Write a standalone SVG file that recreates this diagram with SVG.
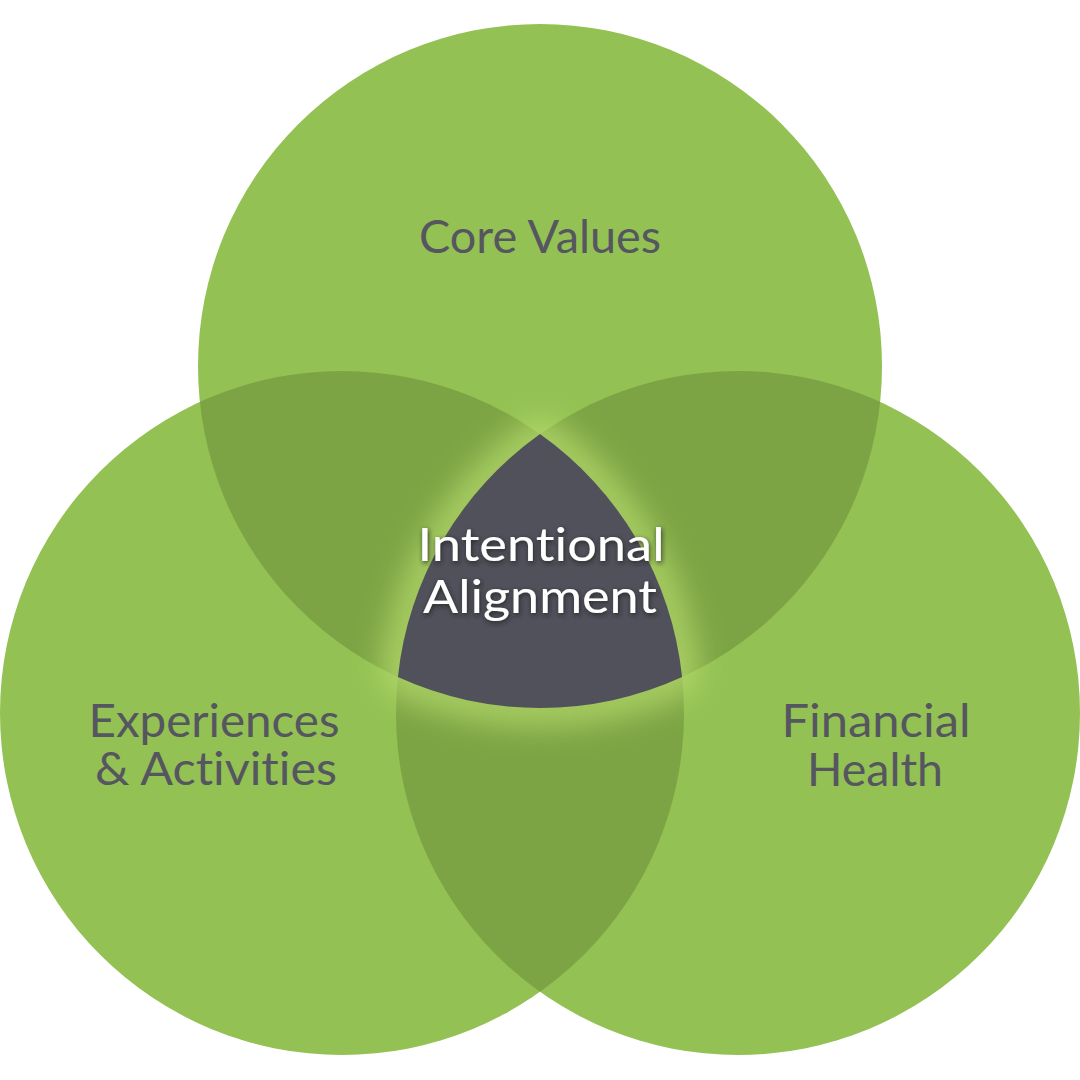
<svg xmlns="http://www.w3.org/2000/svg" width="1080" height="1080" viewBox="0 0 1080 1080">
  <defs>
    <style>
      .circle { fill: #93c153; }
      .overlap { fill: #7ca444; }
      .center { fill: #50515b; }
      .label { font-family: Lato, "Open Sans", "Liberation Sans", sans-serif; font-size: 46px; fill: #555660; text-anchor: middle; font-variant-ligatures: none; font-feature-settings: "liga" 0; }
      .centerlabel { font-family: Lato, "Open Sans", "Liberation Sans", sans-serif; font-size: 47px; fill: #ffffff; text-anchor: middle; font-variant-ligatures: none; font-feature-settings: "liga" 0; }
    </style>
    <clipPath id="clipTop"><circle cx="540" cy="366" r="342"/></clipPath>
    <clipPath id="clipLeft"><circle cx="342" cy="713" r="342"/></clipPath>
    <clipPath id="clipRight"><circle cx="738" cy="713" r="342"/></clipPath>
    <filter id="glow" x="-50%" y="-50%" width="200%" height="200%">
      <feGaussianBlur stdDeviation="16"/>
    </filter>
    <filter id="shadow" x="-20%" y="-40%" width="140%" height="180%">
      <feDropShadow dx="1" dy="2" stdDeviation="2.5" flood-color="#1e1f24" flood-opacity="0.85"/>
    </filter>
  </defs>

  <rect width="1080" height="1080" fill="#ffffff"/>

  <g id="node-core-values">
    <circle class="circle" cx="540" cy="366" r="342"/>
  </g>
  <g id="node-experiences">
    <circle class="circle" cx="342" cy="713" r="342"/>
  </g>
  <g id="node-financial">
    <circle class="circle" cx="738" cy="713" r="342"/>
  </g>

  <g id="overlaps">
    <g clip-path="url(#clipTop)"><circle class="overlap" cx="342" cy="713" r="342"/></g>
    <g clip-path="url(#clipTop)"><circle class="overlap" cx="738" cy="713" r="342"/></g>
    <g clip-path="url(#clipLeft)"><circle class="overlap" cx="738" cy="713" r="342"/></g>
  </g>

  <g id="node-intentional-alignment">
    <path d="M540 434.1 A342 342 0 0 0 397.9 677.1 A342 342 0 0 0 682.1 677.1 A342 342 0 0 0 540 434.1 Z" fill="none" stroke="#b5da6c" stroke-width="30" filter="url(#glow)" opacity="0.95"/>
    <path class="center" d="M540 434.1 A342 342 0 0 0 397.9 677.1 A342 342 0 0 0 682.1 677.1 A342 342 0 0 0 540 434.1 Z"/>
    <g filter="url(#shadow)">
      <text class="centerlabel"><tspan x="541" y="561" textLength="247" lengthAdjust="spacingAndGlyphs">Intentional</tspan><tspan x="540" y="613" textLength="234" lengthAdjust="spacingAndGlyphs">Alignment</tspan></text>
    </g>
  </g>

  <g id="labels">
    <text class="label" x="540" y="253" textLength="242" lengthAdjust="spacingAndGlyphs">Core Values</text>
    <text class="label"><tspan x="214" y="737" textLength="251" lengthAdjust="spacingAndGlyphs">Experiences</tspan><tspan x="216" y="785" textLength="242" lengthAdjust="spacingAndGlyphs">&amp; Activities</tspan></text>
    <text class="label"><tspan x="876" y="737" textLength="189" lengthAdjust="spacingAndGlyphs">Financial</tspan><tspan x="875" y="786" textLength="136" lengthAdjust="spacingAndGlyphs">Health</tspan></text>
  </g>
</svg>
